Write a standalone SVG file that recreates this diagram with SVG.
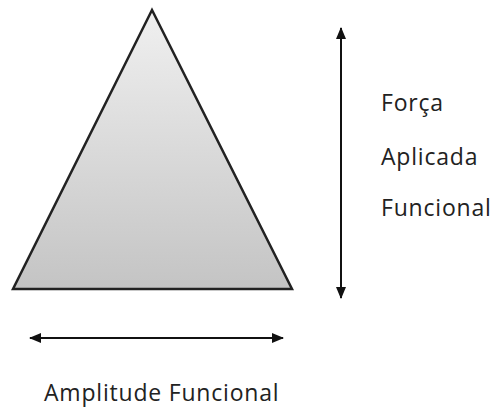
<svg xmlns="http://www.w3.org/2000/svg" width="493" height="409" viewBox="0 0 493 409">
<style>
.lbl{font-family:"Open Sans","Liberation Sans",sans-serif;font-size:23px;letter-spacing:0.8px;fill:#222}
.ln{stroke:#111;stroke-width:2;fill:none}
</style>
<defs>
<linearGradient id="g" x1="0" y1="0" x2="0" y2="1">
<stop offset="0" stop-color="#f0f0f0"/>
<stop offset="1" stop-color="#c4c4c4"/>
</linearGradient>
<marker id="ah" viewBox="0 0 12 10" refX="11" refY="5" markerWidth="6" markerHeight="5" orient="auto-start-reverse" markerUnits="strokeWidth">
<path d="M0,0 L12,5 L0,10 z" fill="#111"/>
</marker>
</defs>
<rect width="493" height="409" fill="#fff"/>
<g id="triangle">
<polygon points="152,10 13,289 292,289" fill="url(#g)" stroke="#222" stroke-width="2.5" stroke-linejoin="miter"/>
</g>
<g id="connectors">
<line class="ln" x1="341" y1="28" x2="341" y2="298" marker-start="url(#ah)" marker-end="url(#ah)"/>
<line class="ln" x1="30" y1="338" x2="283" y2="338" marker-start="url(#ah)" marker-end="url(#ah)"/>
</g>
<g id="label-forca">
<text class="lbl" x="381" y="111">Força</text>
<text class="lbl" x="381" y="165">Aplicada</text>
<text class="lbl" x="381" y="216">Funcional</text>
</g>
<g id="label-amplitude">
<text class="lbl" x="44" y="401">Amplitude Funcional</text>
</g>
</svg>
